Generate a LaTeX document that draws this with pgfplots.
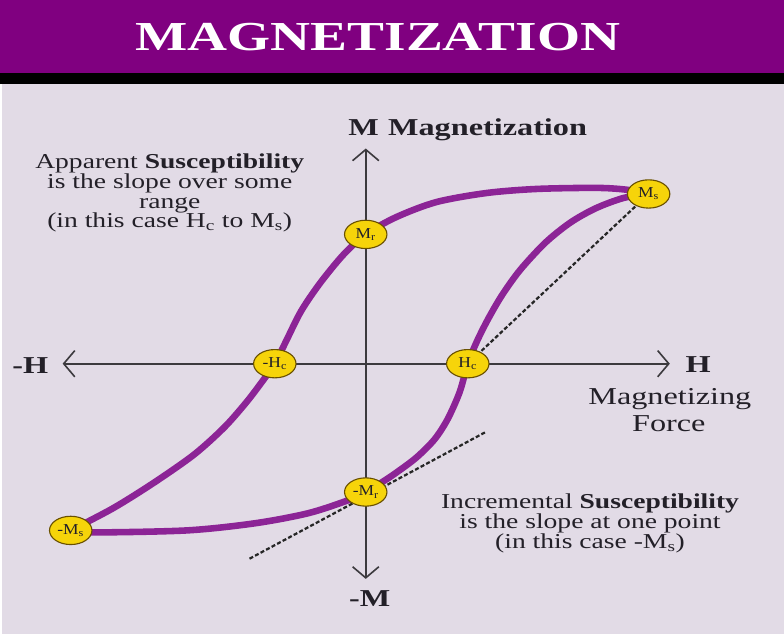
\documentclass[border=0pt]{standalone}
\usepackage{fontspec}
\setmainfont{Liberation Serif}
\usepackage{graphicx}
\usepackage{pgfplots}
\pgfplotsset{compat=1.18}
\usetikzlibrary{arrows.meta}
\definecolor{banner}{RGB}{128,0,128}
\definecolor{bg}{RGB}{226,219,230}
\definecolor{loopc}{RGB}{140,36,150}
\definecolor{gold}{RGB}{246,212,10}
\definecolor{goldedge}{RGB}{105,80,0}
\definecolor{ink}{RGB}{35,32,40}
\definecolor{axisc}{RGB}{60,58,62}
\newcommand{\sx}[2][1.3]{\scalebox{#1}[1]{#2}}
\newcommand{\lab}[1]{\scalebox{1.15}[1]{#1}}
\newcommand{\bodyfont}{\fontsize{21}{21}\selectfont}
\newcommand{\labfont}{\fontsize{24}{24}\selectfont}

\pgfplotstableread{
x y
-292 -165
-250 -143
-210 -118
-170 -90
-140 -63
-118 -38
-102 -17
-90 0
-79 22
-64 52
-45 80
-22 108
0 128
30 145
70 160
120 169
170 173
230 174
260 172
280 168
}\upperbranch

\pgfplotstableread{
x y
280 168
255 164
228 154
203 140
178 120
153 93
135 68
121 44
110 22
101 0
93 -28
81 -55
68 -75
50 -93
30 -108
15 -118
0 -127
-17 -135
-57 -148
-110 -158
-177 -165
-270 -167
-292 -165
}\lowerbranch

\begin{document}
\begin{tikzpicture}
\begin{axis}[scale only axis, width=784pt, height=633pt,
  xmin=-370, xmax=414, ymin=-268, ymax=365, hide axis, clip=false]
% backgrounds
\fill[bg] (axis cs:-360,277) rectangle (axis cs:414,-268);
\fill[banner] (axis cs:-362,360) rectangle (axis cs:414,288);
\fill[black] (axis cs:-362,288) rectangle (axis cs:414,277);
\node[anchor=base, text=white, inner sep=0pt] at (axis cs:12,310)
  {\resizebox{480pt}{27pt}{\bfseries MAGNETIZATION}};

% axes with open arrow heads
\addplot[axisc, line width=1.6pt,
  arrows={Straight Barb[length=11pt,width=26pt,line width=1.6pt]-Straight Barb[length=11pt,width=26pt,line width=1.6pt]}]
  coordinates {(-300,0) (301,0)};
\addplot[axisc, line width=1.6pt,
  arrows={Straight Barb[length=11pt,width=26pt,line width=1.6pt]-Straight Barb[length=11pt,width=26pt,line width=1.6pt]}]
  coordinates {(0,-213) (0,213)};

% dashed slopes
\addplot[black!85, line width=2.2pt, dash pattern=on 4pt off 2.2pt] coordinates {(101,0) (280,168)};
\addplot[black!85, line width=2.2pt, dash pattern=on 4pt off 2.2pt] coordinates {(-115,-193) (118,-68)};

% hysteresis loop
\addplot[loopc, line width=6.5pt, smooth, tension=0.5] table {\upperbranch};
\addplot[loopc, line width=6.5pt, smooth, tension=0.5] table {\lowerbranch};

% key points
\addplot[only marks, mark=*, mark size=14pt,
  mark options={xscale=1.5, fill=gold, draw=goldedge, line width=1.1pt},
  point meta=explicit symbolic, nodes near coords,
  every node near coord/.append style={anchor=center, inner sep=0pt, text=ink,
    font=\fontsize{15}{15}\selectfont}]
  coordinates {
    (280,168) [\lab{M\textsubscript{s}}]
    (0,128) [\lab{M\textsubscript{r}}]
    (101,0) [\lab{H\textsubscript{c}}]
    (-90,0) [\lab{-H\textsubscript{c}}]
    (0,-127) [\lab{-M\textsubscript{r}}]
    (-292,-165) [\lab{-M\textsubscript{s}}]
  };

% axis labels
\node[anchor=base, text=ink, inner sep=0pt] at (axis cs:-2,226) {\labfont\sx[1.33]{\bfseries M}};
\node[anchor=base west, text=ink, inner sep=0pt] at (axis cs:22,226) {\labfont\sx[1.33]{\bfseries Magnetization}};
\node[anchor=base, text=ink, inner sep=0pt] at (axis cs:329,-9) {\labfont\sx[1.33]{\bfseries H}};
\node[anchor=base, text=ink, inner sep=0pt] at (axis cs:-332,-10) {\labfont\sx[1.33]{\bfseries -H}};
\node[anchor=base, text=ink, inner sep=0pt] at (axis cs:4,-240) {\labfont\sx[1.33]{\bfseries -M}};
\node[anchor=base, text=ink, inner sep=0pt] at (axis cs:301,-40) {\labfont\sx[1.33]{Magnetizing}};
\node[anchor=base, text=ink, inner sep=0pt] at (axis cs:300,-67) {\labfont\sx[1.33]{Force}};

% annotations
\node[anchor=base, text=ink, inner sep=0pt] at (axis cs:-194,193) {\bodyfont\sx{Apparent \textbf{Susceptibility}}};
\node[anchor=base, text=ink, inner sep=0pt] at (axis cs:-194,173) {\bodyfont\sx{is the slope over some}};
\node[anchor=base, text=ink, inner sep=0pt] at (axis cs:-194,154) {\bodyfont\sx{range}};
\node[anchor=base, text=ink, inner sep=0pt] at (axis cs:-194,135) {\bodyfont\sx{(in this case H\textsubscript{c} to M\textsubscript{s})}};

\node[anchor=base, text=ink, inner sep=0pt] at (axis cs:222,-143) {\bodyfont\sx{Incremental \textbf{Susceptibility}}};
\node[anchor=base, text=ink, inner sep=0pt] at (axis cs:222,-163) {\bodyfont\sx{is the slope at one point}};
\node[anchor=base, text=ink, inner sep=0pt] at (axis cs:222,-183) {\bodyfont\sx{(in this case -M\textsubscript{s})}};
\end{axis}
\end{tikzpicture}
\end{document}
